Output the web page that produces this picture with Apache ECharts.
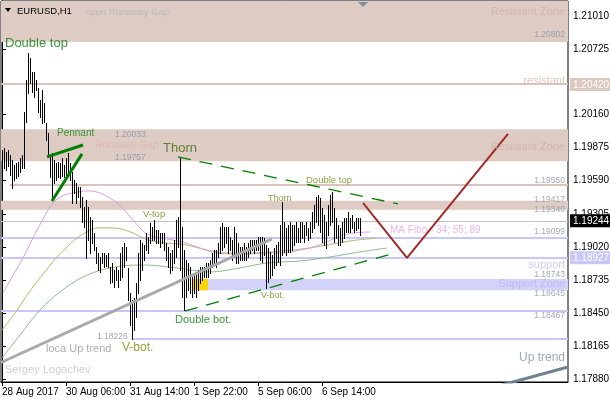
<!DOCTYPE html>
<html><head><meta charset="utf-8">
<script src="https://cdn.jsdelivr.net/npm/echarts@6/dist/echarts.min.js"></script>
<style>html,body{margin:0;padding:0;background:#fff}#c{width:610px;height:400px}</style>
</head><body><div id="c"></div>
<script>
const FONT = "'Liberation Sans', Arial, sans-serif";

// ---- axis labels ----
const xLabelBars = [0, 32, 64, 96, 128, 160];
const xLabels = ['28 Aug 2017', '30 Aug 06:00', '31 Aug 14:00', '1 Sep 22:00', '5 Sep 06:00', '6 Sep 14:00'];
const yTickValues = [1.21010, 1.20725, 1.20160, 1.19875, 1.19590, 1.19305, 1.19020, 1.18735, 1.18450, 1.18165, 1.17880];
const yMarkedValues = [1.20420, 1.18927, 1.19244];

// ---- H1 bars (high / low) ----
const highs = [
1.19855,1.19872,1.19838,1.19855,1.19812,1.19769,1.19726,1.19743,1.19752,1.19786,
1.19812,1.20183,1.20458,1.20691,1.20648,1.20527,1.20527,1.20458,1.20389,1.20286,
1.20372,1.20260,1.20088,1.20002,1.19795,1.19829,1.19769,1.19743,1.19752,1.19743,
1.19786,1.19726,1.19786,1.19829,1.19743,1.19665,1.19596,1.19571,1.19536,1.19536,
1.19450,1.19364,1.19424,1.19364,1.19277,1.19252,1.19140,1.19019,1.18967,1.18933,
1.18967,1.18967,1.18950,1.18967,1.18847,1.18881,1.18821,1.18847,1.18821,1.18967,
1.19019,1.19053,1.19019,1.18838,1.18622,1.18562,1.18579,1.18709,1.18967,1.19079,
1.19053,1.19036,1.19140,1.19105,1.19226,1.19191,1.19252,1.19165,1.19165,1.19140,
1.19140,1.19140,1.19053,1.19019,1.18967,1.18993,1.19079,1.19252,1.19277,1.19795,
1.19191,1.18993,1.18907,1.18881,1.18847,1.18760,1.18795,1.18795,1.18821,1.18847,
1.18847,1.18847,1.18881,1.18881,1.18907,1.18967,1.18993,1.18993,1.19053,1.19191,
1.19226,1.19191,1.19191,1.19191,1.19105,1.19079,1.19191,1.19140,1.19053,1.19019,
1.19019,1.19053,1.19019,1.19053,1.19079,1.19079,1.19079,1.19079,1.19105,1.19105,
1.19105,1.19096,1.19036,1.19010,1.18976,1.18950,1.19010,1.19036,1.19062,1.19209,
1.19407,1.19234,1.19183,1.19209,1.19234,1.19209,1.19209,1.19234,1.19183,1.19234,
1.19234,1.19209,1.19234,1.19183,1.19234,1.19321,1.19381,1.19450,1.19467,1.19441,
1.19355,1.19295,1.19234,1.19381,1.19467,1.19493,1.19355,1.19269,1.19209,1.19183,
1.19234,1.19269,1.19269,1.19321,1.19269,1.19295,1.19234,1.19269,1.19269,1.19269
];
const lows = [
1.19726,1.19700,1.19683,1.19717,1.19640,1.19527,1.19596,1.19614,1.19631,1.19665,
1.19700,1.19700,1.20096,1.20346,1.20432,1.20355,1.20312,1.20372,1.20183,1.20140,
1.20088,1.20096,1.19941,1.19795,1.19622,1.19450,1.19571,1.19596,1.19622,1.19614,
1.19631,1.19622,1.19640,1.19657,1.19596,1.19398,1.19484,1.19398,1.19450,1.19364,
1.19234,1.19191,1.18924,1.19079,1.18967,1.19053,1.18993,1.18881,1.18821,1.18803,
1.18881,1.18847,1.18855,1.18847,1.18709,1.18717,1.18674,1.18734,1.18674,1.18734,
1.18760,1.18847,1.18907,1.18562,1.18347,1.18226,1.18303,1.18415,1.18622,1.18734,
1.18821,1.18907,1.18993,1.18967,1.19053,1.19079,1.19079,1.19053,1.19053,1.19019,
1.19053,1.18993,1.18907,1.18847,1.18795,1.18821,1.18881,1.18933,1.19019,1.18821,
1.18588,1.18476,1.18588,1.18648,1.18622,1.18588,1.18622,1.18588,1.18648,1.18709,
1.18734,1.18760,1.18760,1.18760,1.18795,1.18847,1.18881,1.18847,1.18933,1.18967,
1.18993,1.19019,1.19053,1.18967,1.18993,1.18907,1.18933,1.18881,1.18881,1.18907,
1.18907,1.18907,1.18907,1.18933,1.18967,1.18993,1.18967,1.18993,1.18993,1.18907,
1.18890,1.18950,1.18665,1.18717,1.18752,1.18778,1.18838,1.18864,1.18890,1.18864,
1.18950,1.18976,1.18950,1.18976,1.18976,1.18993,1.19036,1.19062,1.19062,1.19062,
1.19096,1.19062,1.19122,1.19079,1.19096,1.19148,1.19183,1.19234,1.19209,1.19148,
1.19062,1.19036,1.19010,1.19122,1.19209,1.19234,1.19062,1.19096,1.19036,1.19036,
1.19062,1.19096,1.19148,1.19148,1.19148,1.19183,1.19148,1.19165,1.19183,1.19122
];

// ---- moving averages (MA Fibo 34 / 55 / 89), read at sample bars ----
const ma34 = [[0.5,1.18622],[6.5,1.18803],[10.5,1.18924],[15.5,1.19096],[20.5,1.19260],[25.5,1.19398],[30,1.19458],[35.5,1.19484],[42.5,1.19502],[49,1.19484],[57.5,1.19398],[65.5,1.19252],[72.5,1.19131],[82.5,1.19088],[90.5,1.19062],[99,1.19010],[107.5,1.18976],[115.5,1.18967],[124,1.18967],[134,1.18976],[145.5,1.18993],[155.5,1.19019],[162.5,1.19062],[169,1.19114],[176.5,1.19140],[184,1.19148]];
const ma55 = [[0,1.18303],[6.5,1.18450],[14,1.18640],[23,1.18838],[27.5,1.18933],[32.5,1.19019],[37.5,1.19096],[42.5,1.19148],[47.5,1.19183],[55.5,1.19183],[61.5,1.19165],[66.5,1.19131],[73,1.19079],[81.5,1.19053],[89,1.19045],[96.5,1.19019],[107.5,1.18967],[115.5,1.18959],[124,1.18959],[134,1.18967],[140.5,1.18967],[149,1.18993],[162.5,1.19036],[174,1.19071],[187.5,1.19096]];
const ma89 = [[0,1.18062],[9,1.18260],[19,1.18476],[29,1.18631],[40.5,1.18760],[54,1.18838],[70.5,1.18864],[87.5,1.18838],[104,1.18803],[119,1.18838],[132.5,1.18881],[149,1.18898],[164,1.18933],[179,1.18976],[192.5,1.19010]];

// ---- zones and levels ----
const zoneBounds = [
  [-0.5, 283, 1.20785, 1.21150],
  [-0.5, 283, 1.19757, 1.20033],
  [-0.5, 283, 1.19340, 1.19417],
  [95.5, 283, 1.18645, 1.18743],
  [95.5, 103, 1.18645, 1.18743]
];
const levelLines = [
  [-0.5, 283, 1.20420],
  [4, 283, 1.19550],
  [-0.5, 283, 1.19099],
  [-0.5, 283, 1.18927],
  [-0.5, 283, 1.18467],
  [65, 283, 1.18226],
  [-0.5, 283, 1.19244]
];

// ---- trend lines / patterns ----
const localUpTrend = [[-0.5, 1.18023], [135, 1.19088]];
const upTrend = [[250, 1.17829], [283, 1.17984]];
const thornLine = [[88, 1.19795], [198, 1.19390]];
const bottomLine = [[91.5, 1.18467], [196.5, 1.18967]];
const pennantTop = [[22.5, 1.19795], [40.5, 1.19898]];
const pennantBottom = [[25, 1.19415], [40, 1.19821]];
const projection = [[180.5, 1.19398], [202.5, 1.18924], [253, 1.19993]];

// ---- text notes: [text, bar, price] ----
const notes = [
  ['open Runaway Gap', 41.5, 1.21045],
  ['Double top', 1.5, 1.20777],
  ['Pennant', 27.5, 1.20002],
  ['1.20033', 56.5, 1.19984],
  ['Runaway Gap', 46.5, 1.19898],
  ['1.19757', 56.5, 1.19786],
  ['Thorn', 80.5, 1.19864],
  ['V-top', 70.5, 1.19303],
  ['Thorn', 133, 1.19433],
  ['Double top', 152, 1.19596],
  ['Double bot.', 86.5, 1.18390],
  ['V-bot.', 129.5, 1.18597],
  ['V-bot.', 60, 1.18148],
  ['1.18226', 47.5, 1.18243],
  ['loca Up trend', 22, 1.18140],
  ['Sergey Logachev', 1.5, 1.17959],
  ['MA Fibo - 34; 55; 89', 194, 1.19165],
  ['Resistant Zone', 281.5, 1.21045],
  ['1.20802', 281.5, 1.20846],
  ['resistant', 281.5, 1.20450],
  ['Resistant Zone', 281.5, 1.19881],
  ['1.19550', 281.5, 1.19588],
  ['1.19417', 281.5, 1.19424],
  ['1.19340', 281.5, 1.19338],
  ['1.19099', 281.5, 1.19148],
  ['support', 281.5, 1.18864],
  ['1.18743', 281.5, 1.18778],
  ['Support Zone', 281.5, 1.18700],
  ['1.18645', 281.5, 1.18614],
  ['1.18467', 281.5, 1.18424],
  ['Up trend', 281.5, 1.18062]
];

// ---- styles ----
const PINK = '#dcc4bc', LAV = '#c8c8f8', PRICE_TXT = '#8a93a6';
const zoneColors = ['#ddcbc4', '#ddcbc4', '#ddcbc4', '#d2d2fa', '#ffd700'];
const levelStyles = [[PINK, 2], [PINK, 2], [LAV, 2], [LAV, 2], [LAV, 2], [LAV, 2], ['#c0c0c0', 1]];
const S = (color, size, align) => ({color, fontSize: size, align: align || 'left'});
const noteStyles = [
  S('#b4b4b4', 9.5), S('#0a7a0a', 13), S('#0a8a0a', 10), S(PRICE_TXT, 8.5), S('#dbb6ad', 10), S(PRICE_TXT, 8.5),
  S('#3d6b12', 13), S('#6d8a10', 9.5), S('#6d8a10', 9), S('#6d8a10', 9.5), S('#0a7a0a', 11), S('#6d8a10', 9),
  S('#7a8a00', 12), S(PRICE_TXT, 8.5), S('#9a9a9a', 11), S('#c4c4c4', 11), S('#e4a4e4', 10),
  S('#cdb0a8', 11, 'right'), S(PRICE_TXT, 8.5, 'right'), S('#d2b6ae', 11, 'right'), S('#cdb0a8', 11, 'right'),
  S(PRICE_TXT, 8.5, 'right'), S(PRICE_TXT, 8.5, 'right'), S(PRICE_TXT, 8.5, 'right'), S(PRICE_TXT, 8.5, 'right'),
  S('#c0c0f4', 11, 'right'), S(PRICE_TXT, 8.5, 'right'), S('#b6b6f0', 11, 'right'), S(PRICE_TXT, 8.5, 'right'),
  S(PRICE_TXT, 8.5, 'right'), S('#8494a4', 12, 'right')
];

const markedStyle = {
  '1.20420': 'res', '1.18927': 'sup', '1.19244': 'bid'
};

function trend(data, color, width, type, z) {
  return {type: 'line', data, symbol: 'none', silent: true, z: z || 6, clip: true, animation: false,
    lineStyle: {color, width, type: type || 'solid'}};
}
function ma(data, color) {
  return {type: 'line', data, symbol: 'none', smooth: 0.35, silent: true, z: 4, clip: true,
    lineStyle: {color, width: 1}};
}

const chart = echarts.init(document.getElementById('c'));
chart.setOption({
  animation: false,
  backgroundColor: '#fff',
  grid: {left: 1, top: 1, right: 42, bottom: 18, show: true, borderColor: '#000', borderWidth: 1,
    backgroundColor: 'transparent', containLabel: false, outerBoundsMode: 'none'},
  xAxis: {
    type: 'value', min: -0.5, max: 283,
    axisLine: {show: true, lineStyle: {color: '#000', width: 1}},
    axisTick: {show: true, length: 4, customValues: xLabelBars, lineStyle: {color: '#000'}},
    axisLabel: {customValues: xLabelBars, align: 'left', margin: 5, color: '#000', fontSize: 10, fontFamily: FONT,
      formatter: v => xLabels[xLabelBars.indexOf(Math.round(v))] || ''},
    splitLine: {show: false}
  },
  yAxis: {
    type: 'value', position: 'right', min: 1.17855, max: 1.21139, scale: true,
    axisLine: {show: true, lineStyle: {color: '#000', width: 1}},
    axisTick: {show: true, length: 4, customValues: yTickValues.concat(yMarkedValues), lineStyle: {color: '#000'}},
    axisLabel: {
      customValues: yTickValues.concat(yMarkedValues), margin: 2, fontFamily: FONT, fontSize: 10,
      formatter: v => { const s = v.toFixed(5); return '{' + (markedStyle[s] || 'n') + '|' + s + '}'; },
      rich: {
        n: {color: '#000', fontSize: 10, fontFamily: FONT, padding: [0, 0, 0, 3]},
        bid: {color: '#fff', backgroundColor: '#000', fontSize: 10, fontFamily: FONT, padding: [2, 6, 1, 3], lineHeight: 12},
        res: {color: '#fff', backgroundColor: '#dcc8c0', fontSize: 10, fontFamily: FONT, padding: [2, 6, 1, 3], lineHeight: 12},
        sup: {color: '#fff', backgroundColor: '#c8c8f8', fontSize: 10, fontFamily: FONT, padding: [2, 6, 1, 3], lineHeight: 12}
      }
    },
    splitLine: {show: false}
  },
  graphic: [
    {type: 'polygon', shape: {points: [[5, 8], [11, 8], [8, 12]]}, style: {fill: '#000'}, z: 100},
    {type: 'text', left: 17, top: 6, style: {text: 'EURUSD,H1', fill: '#000', font: '9.5px ' + FONT}, z: 100},
    {type: 'polygon', shape: {points: [[358, 2], [368, 2], [363, 7]]}, style: {fill: '#8090a0'}, z: 100}
  ],
  series: [
    {
      type: 'custom', name: 'zones', z: 1, silent: true, clip: true,
      data: zoneBounds, encode: {x: [0, 1], y: [2, 3]},
      renderItem: (params, api) => {
        const a = api.coord([api.value(0), api.value(3)]);
        const b = api.coord([api.value(1), api.value(2)]);
        const cs = params.coordSys;
        const shape = echarts.graphic.clipRectByRect(
          {x: a[0], y: a[1], width: b[0] - a[0], height: b[1] - a[1]},
          {x: cs.x, y: cs.y, width: cs.width, height: cs.height});
        return shape && {type: 'rect', shape, style: {fill: zoneColors[params.dataIndex]}};
      }
    },
    {
      type: 'custom', name: 'levels', z: 2, silent: true, clip: true,
      data: levelLines, encode: {x: [0, 1], y: 2},
      renderItem: (params, api) => {
        const a = api.coord([api.value(0), api.value(2)]);
        const b = api.coord([api.value(1), api.value(2)]);
        const st = levelStyles[params.dataIndex];
        const y = st[1] % 2 ? Math.round(a[1]) + 0.5 : Math.round(a[1]);
        return {type: 'line', shape: {x1: a[0], y1: y, x2: b[0], y2: y}, style: {stroke: st[0], lineWidth: st[1]}};
      }
    },
    ma(ma89, '#8fbc8f'),
    ma(ma55, '#bdb76b'),
    ma(ma34, '#dda0dd'),
    {
      type: 'custom', name: 'EURUSD,H1', z: 5, silent: true, clip: true,
      data: highs.map((h, i) => [i, h, lows[i]]), encode: {x: 0, y: [1, 2]},
      renderItem: (params, api) => {
        const a = api.coord([api.value(0), api.value(1)]);
        const b = api.coord([api.value(0), api.value(2)]);
        const x = Math.round(a[0]) + 0.5;
        return {type: 'line', shape: {x1: x, y1: Math.round(a[1]), x2: x, y2: Math.round(b[1]) + 1}, style: {stroke: '#000', lineWidth: 1}};
      }
    },
    trend(localUpTrend, '#a9a9a9', 3),
    trend(upTrend, '#708090', 3),
    trend(thornLine, '#008000', 1.3, [13, 9]),
    trend(bottomLine, '#008000', 1.3, [13, 9]),
    trend(pennantTop, '#008000', 3),
    trend(pennantBottom, '#008000', 3),
    trend(projection, '#a52a2a', 2),
    {
      type: 'scatter', name: 'notes', z: 8, silent: true, symbolSize: 0,
      data: notes.map((n, i) => ({
        value: [n[1], n[2]],
        label: {show: true, formatter: n[0], position: [0, 0], verticalAlign: 'middle',
          align: noteStyles[i].align, color: noteStyles[i].color, fontSize: noteStyles[i].fontSize, fontFamily: FONT}
      }))
    }
  ]
});
</script>
</body></html>
